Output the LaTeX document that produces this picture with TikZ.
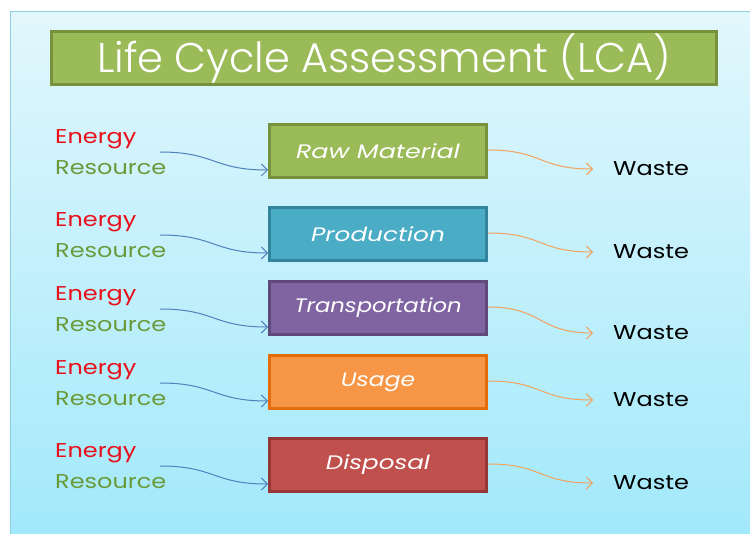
\documentclass[tikz,border=0pt]{standalone}
\usepackage{fontspec}
\setmainfont{Poppins}
\newfontfamily\lightfont[UprightFont=*-Light]{Poppins}
\usetikzlibrary{arrows.meta}
\definecolor{bgtop}{HTML}{E2F7FC}
\definecolor{bgbot}{HTML}{A2E9FB}
\definecolor{bgline}{HTML}{8FCFE0}
\definecolor{gfill}{HTML}{9BBB59}\definecolor{gdraw}{HTML}{76923C}
\definecolor{bfill}{HTML}{4BACC6}\definecolor{bdraw}{HTML}{31849B}
\definecolor{pfill}{HTML}{8064A2}\definecolor{pdraw}{HTML}{5F497A}
\definecolor{ofill}{HTML}{F79646}\definecolor{odraw}{HTML}{E46C0A}
\definecolor{rfill}{HTML}{C0504D}\definecolor{rdraw}{HTML}{953735}
\definecolor{energyc}{HTML}{E8101A}
\definecolor{resc}{HTML}{6A9A3A}
\definecolor{inarrow}{HTML}{4F81BD}
\definecolor{outarrow}{HTML}{F3A25E}
\begin{document}
\begin{tikzpicture}[x=1pt,y=-1pt,
  stepbox/.style={draw, line width=3pt, minimum width=217pt, minimum height=53pt,
    inner sep=0pt, text=white, font=\itshape\fontsize{19.5}{19.5}\selectfont},
  lbl/.style={anchor=west, inner sep=0pt, font=\fontsize{20}{20}\selectfont},
  inarr/.style={draw=inarrow, line width=1pt, -{Straight Barb[length=6pt,width=12pt]}},
  outarr/.style={draw=outarrow, line width=1pt, -{Straight Barb[length=6pt,width=12pt]}}]
\useasboundingbox (0,0) rectangle (750,534);
\fill[white] (0,0) rectangle (750,534);
\shade[top color=bgtop, bottom color=bgbot] (10,12) rectangle (752,536);
\draw[bgline, line width=1pt] (10,536) -- (10,12) -- (752,12);
\node[draw=gdraw, fill=gfill, line width=3pt, minimum width=665pt, minimum height=53pt,
  inner sep=0pt, text=white, font=\lightfont\fontsize{41.5}{41.5}\selectfont] (title) at (384,58) {Life Cycle Assessment (LCA)};
\foreach \i/\y/\fc/\dc/\txt/\sx/\wy in {1/151/gfill/gdraw/Raw Material/1.3/167, 2/234/bfill/bdraw/Production/1.27/250, 3/308/pfill/pdraw/Transportation/1.165/331, 4/382/ofill/odraw/Usage/1.2/398, 5/465/rfill/rdraw/Disposal/1.26/481}{
  \node[stepbox, fill=\fc, draw=\dc] (b\i) at (378,\y) {\raisebox{-2pt}{\scalebox{\sx}[1]{\txt}}};
  \node[lbl, text=energyc] (e\i) at (55,\y-12) {\scalebox{1.2}[1]{Energy}};
  \node[lbl, text=resc] (r\i) at (55,\y+17) {\scalebox{1.2}[1]{Resource}};
  \node[lbl, text=black] (w\i) at (613,\wy+2) {\scalebox{1.2}[1]{Waste}};
  \coordinate (is\i) at (160,\y+1);
  \coordinate (ie\i) at ([yshift=9pt]b\i.south west);
  \coordinate (os\i) at ([yshift=1pt]b\i.east);
  \coordinate (oe\i) at (593,\wy+2);
  \draw[inarr] (is\i) .. controls +(55,0) and +(-55,0) .. (ie\i);
  \draw[outarr] (os\i) .. controls +(55,0) and +(-55,0) .. (oe\i);
}
\end{tikzpicture}
\end{document}
